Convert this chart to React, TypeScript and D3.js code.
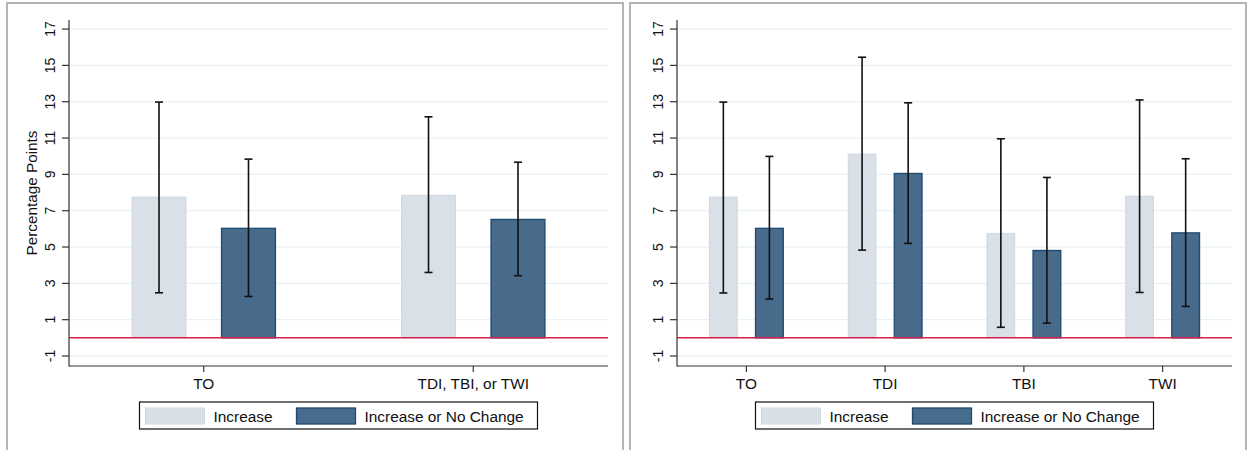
import React from "react";
import * as d3 from "d3";

const leftCategories = ["TO", "TDI, TBI, or TWI"];
const leftIncrease = [7.75, 7.85];
const leftIncreaseLo = [2.48, 3.6];
const leftIncreaseHi = [12.98, 12.17];
const leftNoChange = [6.03, 6.52];
const leftNoChangeLo = [2.28, 3.42];
const leftNoChangeHi = [9.84, 9.67];

const rightCategories = ["TO", "TDI", "TBI", "TWI"];
const rightIncrease = [7.75, 10.12, 5.75, 7.8];
const rightIncreaseLo = [2.47, 4.83, 0.58, 2.5];
const rightIncreaseHi = [12.98, 15.45, 10.96, 13.1];
const rightNoChange = [6.03, 9.05, 4.81, 5.78];
const rightNoChangeLo = [2.14, 5.2, 0.81, 1.73];
const rightNoChangeHi = [9.99, 12.94, 8.83, 9.86];

const yTicks = [-1, 1, 3, 5, 7, 9, 11, 13, 15, 17];
const seriesNames = ["Increase", "Increase or No Change"];

const LIGHT = "#d9e0e8";
const LIGHT_STROKE = "#d0d8e1";
const DARK = "#486a8b";
const DARK_STROKE = "#1d4a70";
const GRID = "#eaf1f3";
const RED = "#d81e4a";
const AXIS = "#333";
const FONT = "'Liberation Sans', Arial, Helvetica, sans-serif";

const yScale = d3.scaleLinear().domain([-1.55, 17.5]).range([366, 20]);

type PanelProps = {
  x0: number;
  x1: number;
  axisX: number;
  plotRight: number;
  cats: string[];
  inc: number[];
  incLo: number[];
  incHi: number[];
  nc: number[];
  ncLo: number[];
  ncHi: number[];
  title?: string;
};

function ErrorBar({ cx, lo, hi }: { cx: number; lo: number; hi: number }) {
  const y1 = yScale(lo);
  const y2 = yScale(hi);
  return (
    <g stroke="#111" strokeWidth={1.6}>
      <line x1={cx} x2={cx} y1={y1} y2={y2} />
      <line x1={cx - 4} x2={cx + 4} y1={y1} y2={y1} />
      <line x1={cx - 4} x2={cx + 4} y1={y2} y2={y2} />
    </g>
  );
}

function Panel(p: PanelProps) {
  const xScale = d3.scaleBand<string>().domain(p.cats).range([p.axisX, p.plotRight]).padding(0);
  const bw = xScale.bandwidth();
  const barW = bw * 0.2;
  const off = bw * 0.166;
  const plotCenter = (p.axisX + p.plotRight) / 2;
  const legW = 398;
  const legX = plotCenter - legW / 2;
  const legY = 402;
  return (
    <g>
      <rect x={p.x0} y={3} width={p.x1 - p.x0} height={470} fill="#fff" stroke="#b4b4b4" strokeWidth={2} />
      {yTicks.map((t) => (
        <line key={"g" + t} x1={p.axisX} x2={p.plotRight} y1={yScale(t)} y2={yScale(t)} stroke={GRID} strokeWidth={1.3} />
      ))}
      {p.cats.map((c, i) => {
        const cx = (xScale(c) as number) + bw / 2;
        const lx = cx - off;
        const dx = cx + off;
        return (
          <g key={c}>
            <rect x={lx - barW / 2} y={yScale(p.inc[i])} width={barW} height={yScale(0) - yScale(p.inc[i])} fill={LIGHT} stroke={LIGHT_STROKE} strokeWidth={1} />
            <rect x={dx - barW / 2} y={yScale(p.nc[i])} width={barW} height={yScale(0) - yScale(p.nc[i])} fill={DARK} stroke={DARK_STROKE} strokeWidth={1.3} />
          </g>
        );
      })}
      <line x1={p.axisX} x2={p.plotRight} y1={yScale(0)} y2={yScale(0)} stroke={RED} strokeWidth={1.5} />
      {p.cats.map((c, i) => {
        const cx = (xScale(c) as number) + bw / 2;
        return (
          <g key={"e" + c}>
            <ErrorBar cx={cx - off} lo={p.incLo[i]} hi={p.incHi[i]} />
            <ErrorBar cx={cx + off} lo={p.ncLo[i]} hi={p.ncHi[i]} />
          </g>
        );
      })}
      {/* y axis */}
      <line x1={p.axisX} x2={p.axisX} y1={20} y2={366.5} stroke={AXIS} strokeWidth={1.2} />
      {yTicks.map((t) => (
        <g key={"t" + t}>
          <line x1={p.axisX - 7} x2={p.axisX} y1={yScale(t)} y2={yScale(t)} stroke={AXIS} strokeWidth={1.2} />
          <text
            transform={`translate(${p.axisX - 14},${yScale(t)}) rotate(-90)`}
            textAnchor="middle"
            fontFamily={FONT}
            fontSize={14}
            fill="#111"
          >
            {t}
          </text>
        </g>
      ))}
      {p.title && (
        <text
          transform={`translate(${p.axisX - 32},${(20 + 366) / 2}) rotate(-90)`}
          textAnchor="middle"
          fontFamily={FONT}
          fontSize={15.3}
          fill="#111"
        >
          {p.title}
        </text>
      )}
      {/* x axis */}
      <line x1={p.axisX} x2={p.plotRight} y1={366} y2={366} stroke={AXIS} strokeWidth={1.2} />
      {p.cats.map((c) => {
        const cx = (xScale(c) as number) + bw / 2;
        return (
          <g key={"x" + c}>
            <line x1={cx} x2={cx} y1={366} y2={372} stroke={AXIS} strokeWidth={1.2} />
            <text x={cx} y={389} textAnchor="middle" fontFamily={FONT} fontSize={15.4} fill="#111">
              {c}
            </text>
          </g>
        );
      })}
      {/* legend */}
      <rect x={legX} y={legY} width={legW} height={27} fill="#fff" stroke="#111" strokeWidth={1.2} />
      <rect x={legX + 6} y={legY + 6} width={59} height={16} fill={LIGHT} stroke={LIGHT_STROKE} />
      <text x={legX + 74} y={legY + 19.5} fontFamily={FONT} fontSize={15.4} fill="#111">
        {seriesNames[0]}
      </text>
      <rect x={legX + 157} y={legY + 6} width={59} height={16} fill={DARK} stroke={DARK_STROKE} strokeWidth={1.3} />
      <text x={legX + 225} y={legY + 19.5} fontFamily={FONT} fontSize={15.4} fill="#111">
        {seriesNames[1]}
      </text>
    </g>
  );
}

export default function App() {
  return (
    <svg
      width={1247}
      height={450}
      style={{ position: "absolute", left: 0, top: 0, background: "#fff" }}
    >
      <rect x={0} y={0} width={1247} height={450} fill="#fff" />
      <Panel
        x0={7}
        x1={623}
        axisX={69}
        plotRight={608}
        cats={leftCategories}
        inc={leftIncrease}
        incLo={leftIncreaseLo}
        incHi={leftIncreaseHi}
        nc={leftNoChange}
        ncLo={leftNoChangeLo}
        ncHi={leftNoChangeHi}
        title="Percentage Points"
      />
      <Panel
        x0={630}
        x1={1246}
        axisX={677}
        plotRight={1232}
        cats={rightCategories}
        inc={rightIncrease}
        incLo={rightIncreaseLo}
        incHi={rightIncreaseHi}
        nc={rightNoChange}
        ncLo={rightNoChangeLo}
        ncHi={rightNoChangeHi}
      />
    </svg>
  );
}
